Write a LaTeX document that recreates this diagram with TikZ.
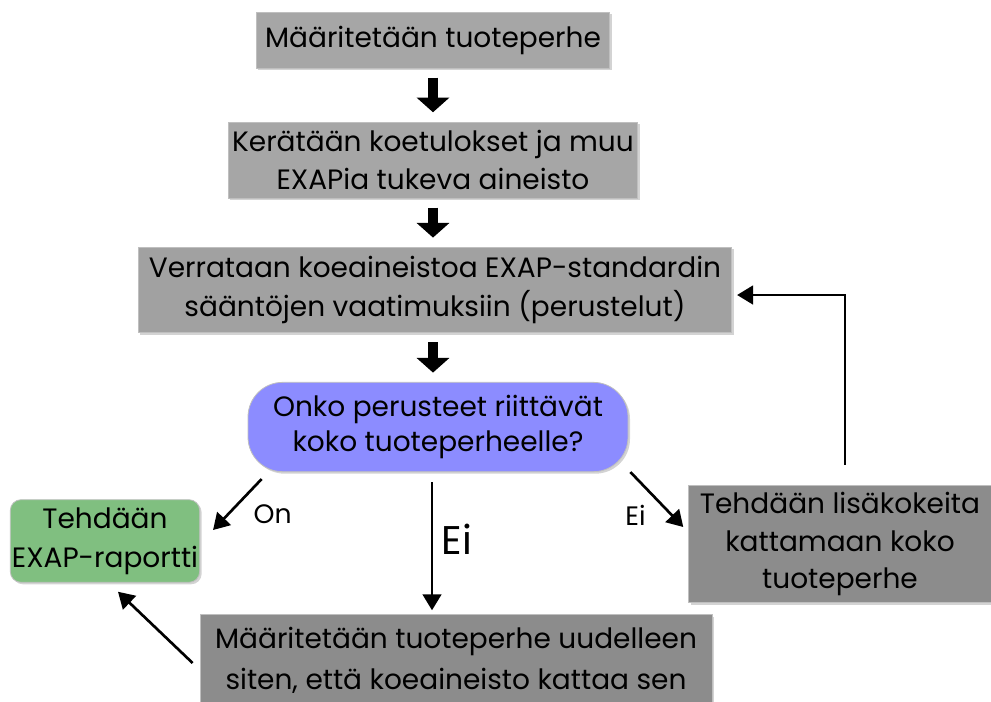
\documentclass[tikz,border=0pt]{standalone}
\usepackage{fontspec}
\setmainfont{Poppins}
\usetikzlibrary{arrows.meta,shadows}

\begin{document}
\begin{tikzpicture}
  [x=0.75pt, y=-0.75pt,
   box/.style={draw=black!25, line width=0.6pt, align=center, inner sep=0pt,
     drop shadow={opacity=0.35, shadow xshift=1.5pt, shadow yshift=-1.5pt},
     font=\fontsize{21}{29}\selectfont},
   gray box/.style={box, fill=black!35},
   dark box/.style={box, fill=black!45},
   big arrow/.style={line width=7.5pt, -{Triangle[width=24pt,length=11pt]},
     shorten <=7pt, shorten >=7pt},
   thin arrow/.style={line width=2pt, -{Triangle[width=14pt,length=12pt]}},
   label text/.style={font=\fontsize{20}{22}\selectfont}]
  \useasboundingbox (0,0) rectangle (991,701);
  \node[gray box, minimum width=265pt, minimum height=42pt] (b1) at (433,40)
    {Määritetään tuoteperhe};
  \node[gray box, minimum width=307pt, minimum height=57pt] (b2) at (433,160)
    {Kerätään koetulokset ja muu\\EXAPia tukeva aineisto};
  \node[gray box, fill=black!37, minimum width=445pt, minimum height=64pt] (b3) at (435,290)
    {Verrataan koeaineistoa EXAP-standardin\\sääntöjen vaatimuksiin (perustelut)};
  \node[box, fill=blue!45!white, rounded corners=26pt, minimum width=285pt,
    minimum height=67pt, font=\fontsize{21}{26}\selectfont] (dec) at (438,427)
    {Onko perusteet riittävät\\koko tuoteperheelle?};
  \node[box, fill=green!50!black!50!white, rounded corners=8pt, minimum width=142pt,
    minimum height=62pt] (green) at (105,541) {Tehdään\\EXAP-raportti};
  \node[dark box, minimum width=227pt, minimum height=88pt,
    font=\fontsize{21}{28}\selectfont] (b4) at (840,544)
    {Tehdään lisäkokeita\\kattamaan koko\\tuoteperhe};
  \node[dark box, minimum width=384pt, minimum height=68pt,
    font=\fontsize{21}{31}\selectfont] (bot) at (456,660)
    {Määritetään tuoteperhe uudelleen\\siten, että koeaineisto kattaa sen};

  \draw[big arrow] (b1.south) -- (b2.north);
  \draw[big arrow] (b2.south) -- (b2.south |- b3.north);
  \draw[big arrow] (b2.south |- b3.south) -- (b2.south |- dec.north);

  \draw[thin arrow] ([shift={(14,7)}]dec.south west) -- ([shift={(13,-11)}]green.east)
    node[label text, pos=0.45, right=6pt, yshift=-9pt] (on) {On};
  \draw[thin arrow] ([shift={(-6,10)}]dec.south) -- ([shift={(-6,-4)}]dec.south |- bot.north)
    node[font=\fontsize{30}{32}\selectfont, pos=0.45, right=3pt] (ei1) {Ei};
  \draw[thin arrow] ([shift={(2,0)}]dec.south east) -- ([shift={(-5,-17)}]b4.west)
    node[label text, pos=0.6, left=8pt, yshift=-8pt] (ei2) {Ei};
  \draw[thin arrow] ([shift={(5,-20)}]b4.north) |- ([shift={(5,5)}]b3.east);
  \draw[thin arrow] ([shift={(-7,3)}]bot.west) -- ([shift={(13,9)}]green.south);
\end{tikzpicture}
\end{document}
